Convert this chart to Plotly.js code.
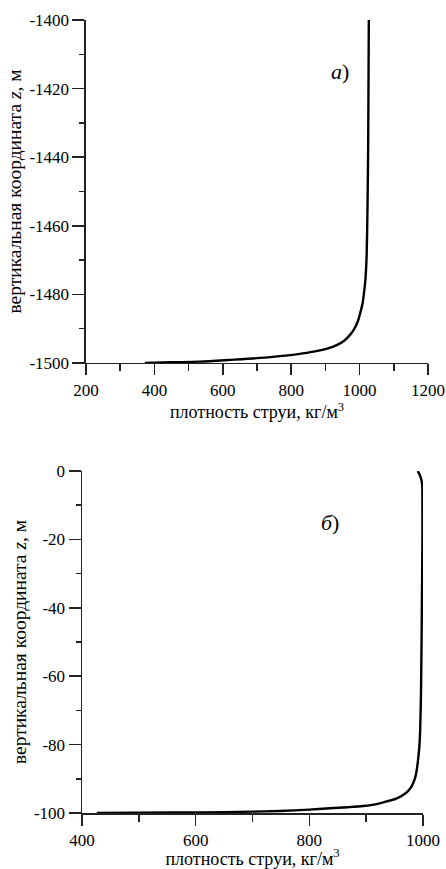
<!DOCTYPE html>
<html>
<head>
<meta charset="utf-8">
<script src="https://cdn.plot.ly/plotly-3.0.1.min.js"></script>
<style>html,body{margin:0;padding:0;background:#fff;}#chart{width:446px;height:869px;}</style>
</head>
<body>
<div id="chart"></div>
<script>
// Panel a)
var densA = [372, 450, 533, 621, 700, 767, 820, 865, 905, 933, 955, 972, 986, 996, 1003, 1009, 1013, 1016, 1018.5, 1020.5, 1022, 1023.5, 1025, 1026, 1027];
var zA = [-1500, -1499.8, -1499.6, -1499.1, -1498.6, -1498.0, -1497.4, -1496.7, -1495.8, -1494.8, -1493.5, -1491.8, -1489.8, -1487.5, -1485.0, -1482.5, -1479.5, -1476.8, -1473.5, -1469, -1462, -1452, -1438, -1420, -1400];
// Panel б)
var densB = [426, 500, 608, 700, 748, 800, 836, 868, 895, 918, 936, 953, 965, 974, 980, 986, 989, 993.6, 995, 996.5, 998, 999, 999, 998.6, 997, 994, 990.6];
var zB = [-100, -99.9, -99.8, -99.6, -99.4, -99.0, -98.6, -98.3, -97.95, -97.4, -96.6, -95.8, -94.7, -93.5, -92.2, -89.8, -87.4, -80.6, -75.7, -65, -40, -20, -10, -4.2, -2.5, -1, 0];

var xTicksA = [200, 400, 600, 800, 1000, 1200];
var xTickTextA = ["200", "400", "600", "800", "1000", "1200"];
var yTicksA = [-1500, -1480, -1460, -1440, -1420, -1400];
var yTickTextA = ["-1500", "-1480", "-1460", "-1440", "-1420", "-1400"];
var xTicksB = [400, 600, 800, 1000];
var xTickTextB = ["400", "600", "800", "1000"];
var yTicksB = [-100, -80, -60, -40, -20, 0];
var yTickTextB = ["-100", "-80", "-60", "-40", "-20", "0"];

var xTitle = "плотность струи, кг/м<sup>3</sup>";
var yTitle = "вертикальная координата <i>z</i>, м";
var labelA = "<i>а</i>)";
var labelB = "<i>б</i>)";

var FF = "Liberation Serif";
var tickFont = {family: FF, size: 17, color: "#000"};
var xTitleFont = {family: FF, size: 18, color: "#000"};
var yTitleFont = {family: FF, size: 19.5, color: "#000"};
var lineCol = "#222";

var traces = [
  {x: densA, y: zA, type: "scatter", mode: "lines", xaxis: "x", yaxis: "y",
   line: {color: "#000", width: 2.4, shape: "spline", smoothing: 0.8}, showlegend: false, hoverinfo: "skip"},
  {x: densB, y: zB, type: "scatter", mode: "lines", xaxis: "x2", yaxis: "y2",
   line: {color: "#000", width: 2.4, shape: "spline", smoothing: 0.8}, showlegend: false, hoverinfo: "skip"}
];

var layout = {
  width: 446, height: 869,
  margin: {l: 0, r: 0, t: 0, b: 0},
  paper_bgcolor: "#fff", plot_bgcolor: "#fff",
  font: {family: FF, size: 16, color: "#000"},
  showlegend: false,
  xaxis: {domain: [0.1928, 0.9596], range: [200, 1200], anchor: "y",
    showgrid: false, zeroline: false, showline: true, linecolor: lineCol, linewidth: 1.5,
    ticks: "outside", tickcolor: lineCol, tickwidth: 1.5, ticklen: 11,
    tickmode: "array", tickvals: xTicksA, ticktext: xTickTextA, tickfont: tickFont,
    minor: {ticks: "outside", dtick: 100, tick0: 0, ticklen: 7, tickcolor: lineCol, tickwidth: 1.5},
    automargin: false,
    title: {text: xTitle, font: xTitleFont, standoff: 0}},
  yaxis: {domain: [0.5823, 0.9770], range: [-1500, -1400], anchor: "x",
    showgrid: false, zeroline: false, showline: true, linecolor: lineCol, linewidth: 1.5,
    ticks: "outside", tickcolor: lineCol, tickwidth: 1.5, ticklen: 12,
    tickmode: "array", tickvals: yTicksA, ticktext: yTickTextA, tickfont: tickFont,
    minor: {ticks: "outside", dtick: 10, tick0: 0, ticklen: 5, tickcolor: lineCol, tickwidth: 1.5},
    automargin: false,
    title: {text: yTitle, font: yTitleFont, standoff: 2}},
  xaxis2: {domain: [0.1839, 0.9484], range: [400, 1000], anchor: "y2",
    showgrid: false, zeroline: false, showline: true, linecolor: lineCol, linewidth: 1.5,
    ticks: "outside", tickcolor: lineCol, tickwidth: 1.5, ticklen: 11,
    tickmode: "array", tickvals: xTicksB, ticktext: xTickTextB, tickfont: tickFont,
    minor: {ticks: "outside", dtick: 100, tick0: 0, ticklen: 7, tickcolor: lineCol, tickwidth: 1.5},
    automargin: false,
    title: {text: xTitle, font: xTitleFont, standoff: 0}},
  yaxis2: {domain: [0.0644, 0.4580], range: [-100, 0], anchor: "x2",
    showgrid: false, zeroline: false, showline: true, linecolor: lineCol, linewidth: 1.5,
    ticks: "outside", tickcolor: lineCol, tickwidth: 1.5, ticklen: 12,
    tickmode: "array", tickvals: yTicksB, ticktext: yTickTextB, tickfont: tickFont,
    minor: {ticks: "outside", dtick: 10, tick0: 0, ticklen: 5, tickcolor: lineCol, tickwidth: 1.5},
    automargin: false,
    title: {text: yTitle, font: yTitleFont, standoff: 2}},
  annotations: [
    {text: labelA, xref: "x", yref: "y", x: 942, y: -1415, showarrow: false,
     font: {family: FF, size: 22, color: "#000"}},
    {text: labelB, xref: "x2", yref: "y2", x: 836, y: -15, showarrow: false,
     font: {family: FF, size: 22, color: "#000"}}
  ]
};

Plotly.newPlot("chart", traces, layout, {staticPlot: true, displayModeBar: false});
</script>
</body>
</html>
